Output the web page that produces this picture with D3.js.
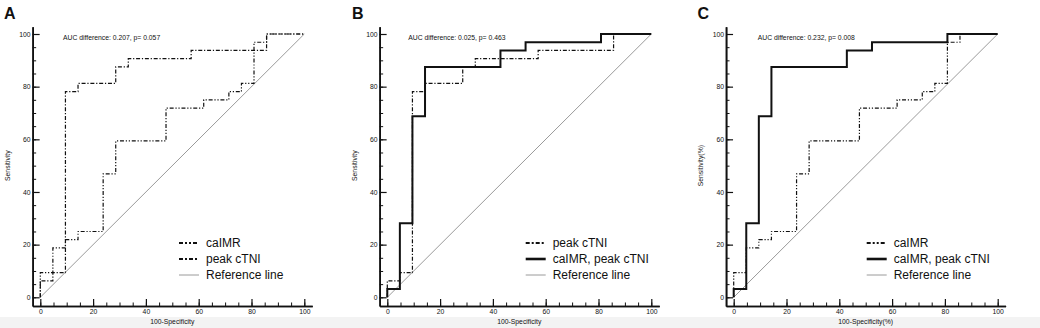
<!DOCTYPE html>
<html>
<head>
    <title>ROC comparison</title>
    <script src="https://d3js.org/d3.v7.min.js"></script>
    <style>
        body {
            margin: 0;
            background: #fff;
        }
        svg text {
            font-family: Arial, "Liberation Sans", sans-serif;
            fill: #111;
        }
        .axis path, .axis line {
            stroke: #111;
        }
        .axis path {
            stroke-width: 1.6;
        }
        .axis text {
            font-size: 6.8px;
        }
        .panel-letter {
            font-size: 16px;
            font-weight: bold;
        }
        .small {
            font-size: 6.8px;
        }
        .legend text {
            font-size: 12px;
        }
    </style>
</head>
<body>
    <svg id="chart" width="1040" height="328"></svg>

    <script>
        // ROC operating points (100-specificity, sensitivity)
        const caimrFpr = [0, 0, 4.76, 9.52, 14.29, 23.81, 28.57, 47.62, 61.9, 71.43, 76.19, 80.95, 85.71, 100];
        const caimrTpr = [0, 9.375, 18.75, 21.875, 25, 46.875, 59.375, 71.875, 75, 78.125, 81.25, 96.875, 100, 100];

        const ctniFpr = [0, 0, 4.76, 9.52, 14.29, 28.57, 33.33, 57.14, 85.71, 100];
        const ctniTpr = [0, 6.25, 9.375, 78.125, 81.25, 87.5, 90.625, 93.75, 100, 100];

        const combFpr = [0, 0, 4.76, 9.52, 14.29, 42.86, 52.38, 80.95, 100];
        const combTpr = [0, 3.125, 28.125, 68.75, 87.5, 93.75, 96.875, 100, 100];

        const refFpr = [0, 100];
        const refTpr = [0, 100];

        const panelLetters = ["A", "B", "C"];
        const aucLabels = [
            "AUC difference: 0.207, p= 0.057",
            "AUC difference: 0.025, p= 0.463",
            "AUC difference: 0.232, p= 0.008"
        ];
        const xTitles = ["100-Specificity", "100-Specificity", "100-Specificity(%)"];
        const yTitles = ["Sensitivity", "Sensitivity", "Sensitivity(%)"];
        const panelSeries = [["caIMR", "peak cTNI"], ["peak cTNI", "caIMR, peak cTNI"], ["caIMR", "caIMR, peak cTNI"]];
        const majorTicks = [0, 20, 40, 60, 80, 100];
        const minorTicks = d3.range(0, 101, 5);

        const series = {
            "caIMR": { x: caimrFpr, y: caimrTpr, dash: "4,1.8,1.2,1.8,1.2,1.8", width: 1.2, legendDash: "4,2,2,2,2,2", legendWidth: 2 },
            "peak cTNI": { x: ctniFpr, y: ctniTpr, dash: "4,1.8,1.2,1.8", width: 1.2, legendDash: "4,2,2,2", legendWidth: 2 },
            "caIMR, peak cTNI": { x: combFpr, y: combTpr, dash: null, width: 2, legendDash: null, legendWidth: 2.6 }
        };

        const svg = d3.select("#chart");

        svg.append("rect")
            .attr("x", 0).attr("y", 317)
            .attr("width", 1040).attr("height", 11)
            .attr("fill", "#f3f3f3");

        const offsets = [0, 347, 693.4];

        offsets.forEach((ox, i) => {
            const g = svg.append("g");

            const x = d3.scaleLinear().domain([0, 100]).range([ox + 40.3, ox + 304.3]);
            const y = d3.scaleLinear().domain([0, 100]).range([297.3, 34]);

            const axisX = x(-2.9);
            const axisY = y(-3.3);

            // extended scales for the axis lines
            const xAx = x.copy().domain([-2.9, 103]).range([x(-2.9), x(103)]);
            const yAx = y.copy().domain([-3.3, 102.8]).range([y(-3.3), y(102.8)]);

            // minor ticks
            g.append("g")
                .attr("class", "axis")
                .attr("transform", `translate(0,${axisY})`)
                .call(d3.axisBottom(xAx).tickValues(minorTicks).tickSizeInner(-3.5).tickSizeOuter(0).tickFormat(""))
                .call(a => a.selectAll("line").attr("stroke-width", 1));
            g.append("g")
                .attr("class", "axis")
                .attr("transform", `translate(${axisX},0)`)
                .call(d3.axisLeft(yAx).tickValues(minorTicks).tickSizeInner(-3.5).tickSizeOuter(0).tickFormat(""))
                .call(a => a.selectAll("line").attr("stroke-width", 1));

            // major ticks with labels
            g.append("g")
                .attr("class", "axis")
                .attr("transform", `translate(0,${axisY})`)
                .call(d3.axisBottom(xAx).tickValues(majorTicks).tickSizeInner(-7).tickSizeOuter(0).tickPadding(3.5))
                .call(a => a.selectAll("line").attr("stroke-width", 1.2));
            g.append("g")
                .attr("class", "axis")
                .attr("transform", `translate(${axisX},0)`)
                .call(d3.axisLeft(yAx).tickValues(majorTicks).tickSizeInner(-7).tickSizeOuter(0).tickPadding(2))
                .call(a => a.selectAll("line").attr("stroke-width", 1.2));

            // axis titles
            g.append("text")
                .attr("class", "small")
                .attr("x", (x(0) + x(100)) / 2)
                .attr("y", 324)
                .attr("text-anchor", "middle")
                .text(xTitles[i]);
            g.append("text")
                .attr("class", "small")
                .attr("transform", `translate(${ox + 9.5},${(y(0) + y(100)) / 2}) rotate(-90)`)
                .attr("text-anchor", "middle")
                .text(yTitles[i]);

            // panel letter
            g.append("text")
                .attr("class", "panel-letter")
                .attr("x", ox + [4, 5, 4][i])
                .attr("y", 18.5)
                .text(panelLetters[i]);

            // AUC difference
            g.append("text")
                .attr("class", "small")
                .attr("x", x(0) + [22.7, 21, 24][i])
                .attr("y", 39.5)
                .text(aucLabels[i]);

            // reference line
            g.append("path")
                .datum(d3.zip(refFpr, refTpr))
                .attr("fill", "none")
                .attr("stroke", "#9a9a9a")
                .attr("stroke-width", 1)
                .attr("d", d3.line().x(d => x(d[0])).y(d => y(d[1])));

            // ROC curves
            const stepLine = d3.line()
                .x(d => x(d[0]))
                .y(d => y(d[1]))
                .curve(d3.curveStepAfter);

            panelSeries[i].forEach(name => {
                const s = series[name];
                g.append("path")
                    .datum(d3.zip(s.x, s.y))
                    .attr("fill", "none")
                    .attr("stroke", "#111")
                    .attr("stroke-width", s.width)
                    .attr("stroke-dasharray", s.dash)
                    .attr("d", stepLine);
            });

            // legend
            const legendItems = panelSeries[i].concat(["Reference line"]);
            const lx = x(0) + [138.7, 138.4, 133][i];
            const legend = g.append("g").attr("class", "legend");
            legendItems.forEach((name, k) => {
                const ly = 243 + k * 16;
                const s = series[name];
                legend.append("line")
                    .attr("x1", lx).attr("x2", lx + 20)
                    .attr("y1", ly).attr("y2", ly)
                    .attr("stroke", s ? "#111" : "#9a9a9a")
                    .attr("stroke-width", s ? s.legendWidth : 1)
                    .attr("stroke-dasharray", s ? s.legendDash : null);
                legend.append("text")
                    .attr("x", lx + 27)
                    .attr("y", ly + 4.3)
                    .text(name);
            });
        });
    </script>
</body>
</html>
